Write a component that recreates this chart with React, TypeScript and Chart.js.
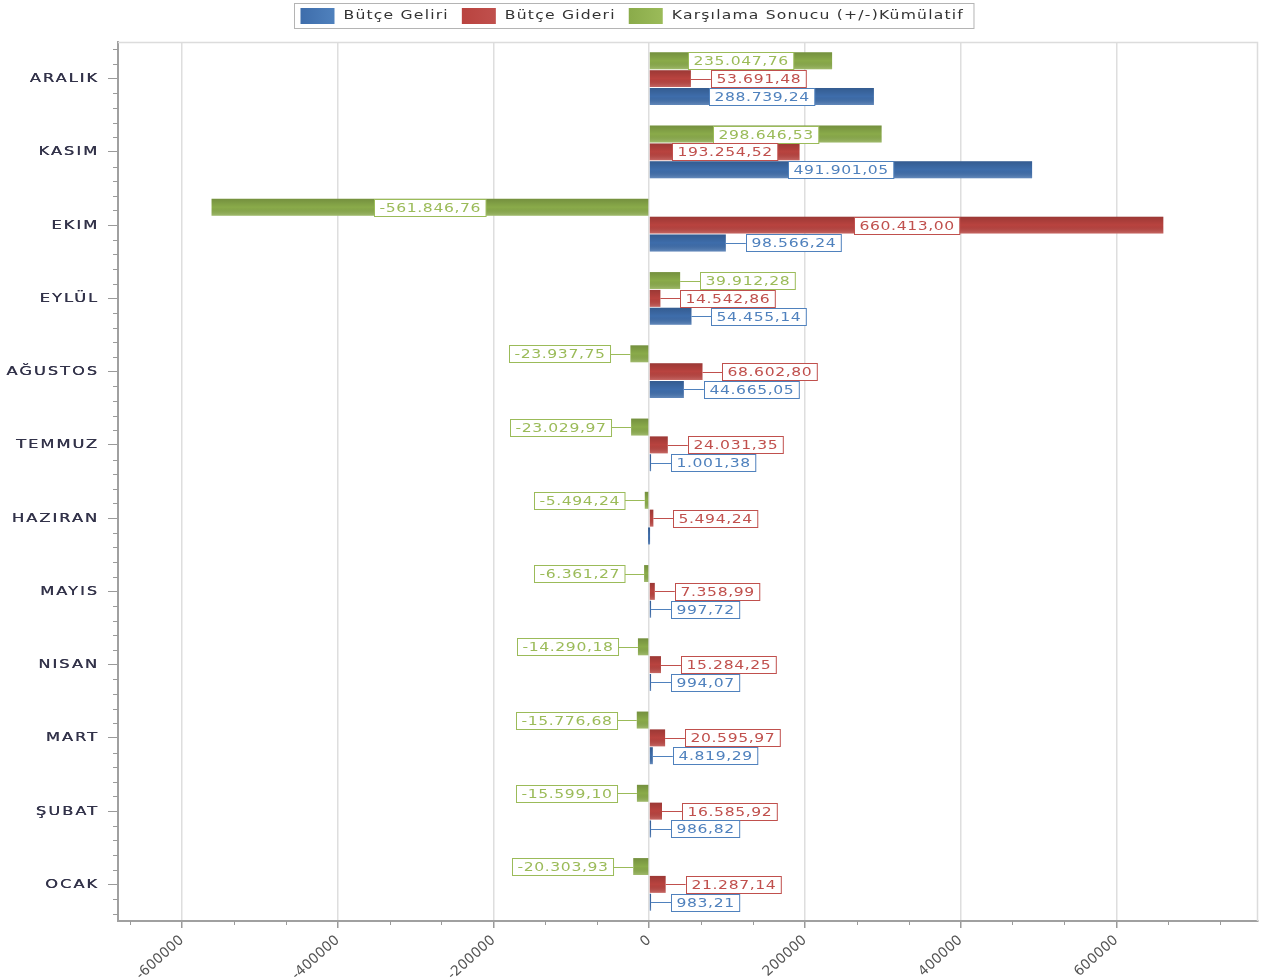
import React, { useEffect, useRef } from 'react';
import { Chart, registerables } from 'chart.js';

Chart.register(...registerables);

const months = ['ARALIK', 'KASIM', 'EKIM', 'EYLÜL', 'AĞUSTOS', 'TEMMUZ', 'HAZIRAN', 'MAYIS', 'NISAN', 'MART', 'ŞUBAT', 'OCAK'];
const butceGeliri = [288739.24, 491901.05, 98566.24, 54455.14, 44665.05, 1001.38, 0, 997.72, 994.07, 4819.29, 986.82, 983.21];
const butceGideri = [53691.48, 193254.52, 660413.0, 14542.86, 68602.8, 24031.35, 5494.24, 7358.99, 15284.25, 20595.97, 16585.92, 21287.14];
const karsilama = [235047.76, 298646.53, -561846.76, 39912.28, -23937.75, -23029.97, -5494.24, -6361.27, -14290.18, -15776.68, -15599.1, -20303.93];
const xMajorTicks = [-600000, -400000, -200000, 0, 200000, 400000, 600000];
const xMin = -682000;
const xMax = 782000;

const seriesLabels = ['Karşılama Sonucu (+/-)Kümülatif', 'Bütçe Gideri', 'Bütçe Geliri'];
const barColors = ['#8aab4a', '#b9433f', '#3e6dab'];
const labelColors = ['#9bbb59', '#c0504d', '#4f81bd'];

const FONT = '"DejaVu Sans", Verdana, sans-serif';

function fmt(v: number): string {
  const neg = v < 0;
  const [i, d] = Math.abs(v).toFixed(2).split('.');
  const ii = i.replace(/\B(?=(\d{3})+(?!\d))/g, '.');
  return (neg ? '-' : '') + ii + ',' + d;
}

function textWidth(ctx: CanvasRenderingContext2D, text: string, sx: number, ls: number) {
  (ctx as any).letterSpacing = ls + 'px';
  const w = ctx.measureText(text).width * sx;
  (ctx as any).letterSpacing = '0px';
  return w;
}

function drawText(ctx: CanvasRenderingContext2D, text: string, x: number, y: number, sx: number, ls: number) {
  ctx.save();
  (ctx as any).letterSpacing = ls + 'px';
  ctx.translate(x, y);
  ctx.scale(sx, 1);
  ctx.textAlign = 'left';
  ctx.textBaseline = 'middle';
  ctx.fillText(text, 0, 0);
  ctx.restore();
}

const customPlugin = {
  id: 'customDraw',
  afterDatasetsDraw(chart: any) {
    const ctx: CanvasRenderingContext2D = chart.ctx;
    const area = chart.chartArea;
    chart.data.datasets.forEach((ds: any, di: number) => {
      const meta = chart.getDatasetMeta(di);
      meta.data.forEach((el: any) => {
        const p = el.getProps(['x', 'y', 'base', 'height'], true);
        const l = Math.min(p.x, p.base);
        const w = Math.abs(p.x - p.base);
        const t = p.y - p.height / 2;
        if (w < 0.5) return;
        const g = ctx.createLinearGradient(0, t, 0, t + p.height);
        g.addColorStop(0, 'rgba(0,0,0,0.16)');
        g.addColorStop(0.5, 'rgba(0,0,0,0)');
        g.addColorStop(1, 'rgba(255,255,255,0.2)');
        ctx.fillStyle = g;
        ctx.fillRect(l, t, w, p.height);
      });
    });
    ctx.save();
    ctx.beginPath();
    ctx.rect(area.left, area.top, area.right - area.left, area.bottom - area.top);
    ctx.clip();
    const sx = 1.2;
    const ls = 0.5;
    chart.data.datasets.forEach((ds: any, di: number) => {
      const meta = chart.getDatasetMeta(di);
      meta.data.forEach((el: any, i: number) => {
        const v = ds.data[i];
        if (v === 0) return;
        const p = el.getProps(['x', 'y', 'base', 'height'], true);
        const text = fmt(v);
        ctx.font = '13px ' + FONT;
        const tw = textWidth(ctx, text, sx, ls);
        const bw = tw + 10;
        const bh = 17;
        const barW = Math.abs(p.x - p.base);
        let bx: number;
        let connector: [number, number] | null = null;
        if (bw + 4 <= barW) {
          bx = (p.x + p.base) / 2 - bw / 2;
        } else if (v > 0) {
          bx = p.x + 20;
          connector = [p.x, bx];
        } else {
          bx = p.x - 20 - bw;
          connector = [bx + bw, p.x];
        }
        const by = Math.round(p.y - bh / 2) + 0.5;
        bx = Math.round(bx) + 0.5;
        ctx.strokeStyle = labelColors[di];
        ctx.lineWidth = 1;
        if (connector) {
          ctx.beginPath();
          ctx.moveTo(connector[0], Math.round(p.y) + 0.5);
          ctx.lineTo(connector[1], Math.round(p.y) + 0.5);
          ctx.stroke();
        }
        ctx.fillStyle = '#ffffff';
        ctx.fillRect(bx, by, bw, bh);
        ctx.strokeRect(bx, by, bw, bh);
        ctx.fillStyle = labelColors[di];
        drawText(ctx, text, bx + 5, by + bh / 2 + 0.5, sx, ls);
      });
    });
    ctx.restore();
  },
  afterDraw(chart: any) {
    const ctx: CanvasRenderingContext2D = chart.ctx;
    const area = chart.chartArea;
    const xs = chart.scales.x;
    const ys = chart.scales.y;
    ctx.save();
    ctx.strokeStyle = '#dcdcdc';
    ctx.lineWidth = 1.5;
    ctx.beginPath();
    ctx.moveTo(area.left, area.top + 0.5);
    ctx.lineTo(area.right - 0.5, area.top + 0.5);
    ctx.lineTo(area.right - 0.5, area.bottom);
    ctx.stroke();
    ctx.strokeStyle = '#9a9a9a';
    ctx.lineWidth = 1;
    const step = 200000 / 3;
    for (let k = -10; k <= 11; k++) {
      const v = k * step;
      if (v < xMin || v > xMax) continue;
      if (k % 3 === 0) continue;
      const px = Math.round(xs.getPixelForValue(v)) + 0.5;
      ctx.beginPath();
      ctx.moveTo(px, area.bottom);
      ctx.lineTo(px, area.bottom + 4);
      ctx.stroke();
    }
    const c0 = ys.getPixelForValue(0);
    const c1 = ys.getPixelForValue(1);
    const cat = c1 - c0;
    for (let k = -5; k <= months.length * 5 + 5; k++) {
      if (k % 5 === 0) continue;
      const py = c0 + (k * cat) / 5;
      if (py < area.top + 1 || py > area.bottom - 1) continue;
      const yy = Math.round(py) + 0.5;
      ctx.beginPath();
      ctx.moveTo(area.left - 5, yy);
      ctx.lineTo(area.left, yy);
      ctx.stroke();
    }
    ctx.font = '13px ' + FONT;
    ctx.fillStyle = '#33334a';
    months.forEach((m, i) => {
      const py = ys.getPixelForValue(i);
      const w = textWidth(ctx, m, 1.25, 1.6);
      drawText(ctx, m, 99 - w, py, 1.25, 1.6);
      drawText(ctx, m, 99.4 - w, py, 1.25, 1.6);
    });
    const items = [2, 1, 0];
    ctx.font = '13px ' + FONT;
    const lsx = 1.2;
    const lls = 1;
    const widths = items.map((di) => textWidth(ctx, seriesLabels[di], lsx, lls));
    const sw = 34;
    const gap1 = 9;
    const gap2 = 13;
    let total = 6 + 10;
    widths.forEach((w, i) => {
      total += sw + gap1 + w + (i < widths.length - 1 ? gap2 : 0);
    });
    const lx = Math.round(634 - total / 2) + 0.5;
    const ly = 3.5;
    const lh = 25;
    ctx.fillStyle = '#ffffff';
    ctx.fillRect(lx, ly, total, lh);
    ctx.strokeStyle = '#b4b4b4';
    ctx.lineWidth = 1;
    ctx.strokeRect(lx, ly, total, lh);
    let cx = lx + 6;
    items.forEach((di, i) => {
      const g = ctx.createLinearGradient(cx, 0, cx + sw, 0);
      g.addColorStop(0, barColors[di]);
      g.addColorStop(1, labelColors[di]);
      ctx.fillStyle = g;
      ctx.fillRect(cx, 8, sw, 16);
      cx += sw + gap1;
      ctx.fillStyle = '#333333';
      drawText(ctx, seriesLabels[di], cx, 16, lsx, lls);
      cx += widths[i] + gap2;
    });
    ctx.restore();
  },
};

export default function App() {
  const ref = useRef<HTMLCanvasElement>(null);
  useEffect(() => {
    document.body.style.margin = '0';
    const chart = new Chart(ref.current as HTMLCanvasElement, {
      type: 'bar',
      data: {
        labels: months,
        datasets: [
          { label: seriesLabels[0], data: karsilama, backgroundColor: barColors[0] },
          { label: seriesLabels[1], data: butceGideri, backgroundColor: barColors[1] },
          { label: seriesLabels[2], data: butceGeliri, backgroundColor: barColors[2] },
        ],
      },
      options: {
        indexAxis: 'y',
        animation: false,
        responsive: true,
        maintainAspectRatio: false,
        layout: { padding: { top: 42, right: 7, left: 0, bottom: 0 } },
        datasets: {
          bar: { barPercentage: 0.95, categoryPercentage: 0.73, minBarLength: 2, borderWidth: 0 },
        } as any,
        plugins: {
          legend: { display: false },
          tooltip: { enabled: false },
        },
        scales: {
          x: {
            type: 'linear',
            min: xMin,
            max: xMax,
            afterBuildTicks: (scale: any) => {
              scale.ticks = xMajorTicks.map((v) => ({ value: v }));
            },
            afterFit: (scale: any) => {
              scale.height = 56;
            },
            ticks: {
              minRotation: 42,
              maxRotation: 42,
              color: '#555555',
              font: { family: FONT, size: 14 },
              padding: 4,
              callback: (v: any) => String(v),
            },
            grid: {
              color: '#dedede',
              lineWidth: 1.5,
              tickColor: '#9a9a9a',
              tickLength: 7,
            },
            border: { color: '#a0a0a0', width: 2 },
          },
          y: {
            type: 'category',
            offset: true,
            afterFit: (scale: any) => {
              scale.width = 118;
            },
            ticks: { display: false },
            grid: {
              display: true,
              drawOnChartArea: false,
              offset: false,
              tickColor: '#9a9a9a',
              tickLength: 10,
              lineWidth: 1,
            },
            border: { color: '#a0a0a0', width: 2 },
          },
        },
      },
      plugins: [customPlugin],
    } as any);
    return () => chart.destroy();
  }, []);
  return (
    <div style={{ width: 1265, height: 977, position: 'relative' }}>
      <canvas ref={ref} />
    </div>
  );
}
